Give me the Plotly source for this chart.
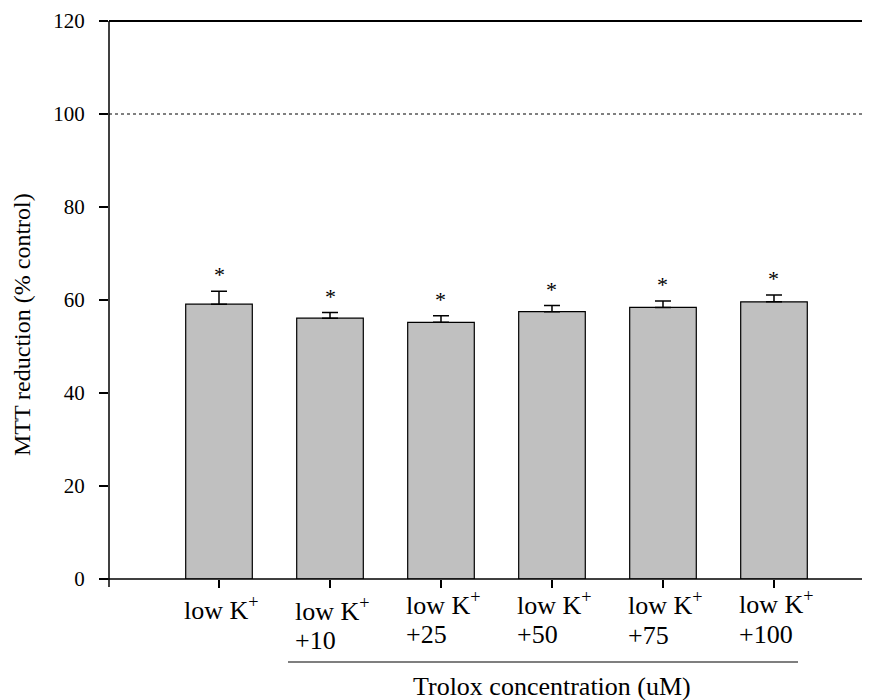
import plotly.graph_objects as go

categories = ["low K+", "low K+ +10", "low K+ +25", "low K+ +50", "low K+ +75", "low K+ +100"]
label_line1 = ["low K<sup>+</sup>"] * 6
label_line2 = ["", "+10", "+25", "+50", "+75", "+100"]
values = [59.1, 56.1, 55.2, 57.5, 58.4, 59.6]
errors = [2.8, 1.2, 1.4, 1.3, 1.4, 1.5]
y_ticks = [0, 20, 40, 60, 80, 100, 120]
control_level = 100
group_title = "Trolox concentration (uM)"
y_title = "MTT reduction (% control)"

FONT = "Liberation Serif, Times New Roman, serif"
xpos = list(range(len(categories)))

# page has an 8px body margin; compensate so the plot lands where the reference has it
W, H = 862, 692
L, T, B = 101, 13, 121
PW, PH = W - L, H - T - B  # 761 x 558

fig = go.Figure()
fig.add_trace(go.Bar(
    x=xpos, y=values, width=0.6,
    marker=dict(color="#c0c0c0", line=dict(color="black", width=1.2)),
    error_y=dict(type="data", array=errors, arrayminus=[0] * len(errors), symmetric=False,
                 color="black", thickness=1.5, width=8),
    showlegend=False,
))

annotations = []
for i, (v, e) in enumerate(zip(values, errors)):
    annotations.append(dict(x=i, y=v + e, xref="x", yref="y", text="*", showarrow=False,
                            xanchor="center", yanchor="bottom", yshift=2,
                            font=dict(family=FONT, size=22, color="black")))
line1_shift = [-11, -12, -6, -6, -6, -5]
line2_shift = [-40, -45, -39, -39, -40, -39]
for i in xpos:
    annotations.append(dict(x=i, y=0, xref="x", yref="paper", text=label_line1[i], showarrow=False,
                            xanchor="left", yanchor="top", align="left", xshift=-37,
                            yshift=line1_shift[i],
                            font=dict(family=FONT, size=26, color="black")))
    if label_line2[i]:
        annotations.append(dict(x=i, y=0, xref="x", yref="paper", text=label_line2[i], showarrow=False,
                                xanchor="left", yanchor="top", align="left", xshift=-37,
                                yshift=line2_shift[i],
                                font=dict(family=FONT, size=26, color="black")))
annotations.append(dict(x=(552 - 109) / PW, y=0, xref="paper", yref="paper",
                        text=group_title, showarrow=False,
                        xanchor="center", yanchor="top", yshift=-91,
                        font=dict(family=FONT, size=26, color="black")))
annotations.append(dict(x=0, y=0.455, xref="paper", yref="paper",
                        text=y_title, showarrow=False, textangle=-90,
                        xanchor="center", yanchor="middle", xshift=-87,
                        font=dict(family=FONT, size=24, color="black")))

x0, x1 = -0.991, 5.865
ul_y = -(662 - 579) / PH
shapes = [
    dict(type="line", xref="paper", yref="y", x0=0, x1=1, y0=control_level, y1=control_level,
         line=dict(color="black", width=1, dash="dot")),
    dict(type="line", xref="paper", yref="paper", x0=0, x1=0, y0=-8 / PH, y1=1,
         line=dict(color="black", width=1.5)),
    dict(type="line", xref="paper", yref="paper", x0=-9 / PW, x1=1, y0=0, y1=0,
         line=dict(color="black", width=1.5)),
    dict(type="line", xref="paper", yref="paper", x0=0, x1=1, y0=1, y1=1,
         line=dict(color="black", width=2)),
    dict(type="line", xref="paper", yref="paper", x0=(288 - 109) / PW, x1=(798 - 109) / PW,
         y0=ul_y, y1=ul_y, line=dict(color="black", width=1.2)),
]

fig.update_layout(
    width=W, height=H,
    margin=dict(l=L, r=0, t=T, b=B),
    paper_bgcolor="white", plot_bgcolor="white",
    font=dict(family=FONT, size=21, color="black"),
    xaxis=dict(range=[x0, x1], tickvals=xpos, showticklabels=False, ticks="outside",
               ticklen=8, tickwidth=1.5, tickcolor="black", showgrid=False, zeroline=False,
               showline=False),
    yaxis=dict(range=[0, 120], tickvals=y_ticks, ticks="outside", ticklen=9, tickwidth=1.5,
               tickcolor="black", showgrid=False, zeroline=False, showline=False,
               ticklabelstandoff=10,
               tickfont=dict(family=FONT, size=21, color="black")),
    annotations=annotations,
    shapes=shapes,
    bargap=0.4,
)

fig.write_html("out.html")
